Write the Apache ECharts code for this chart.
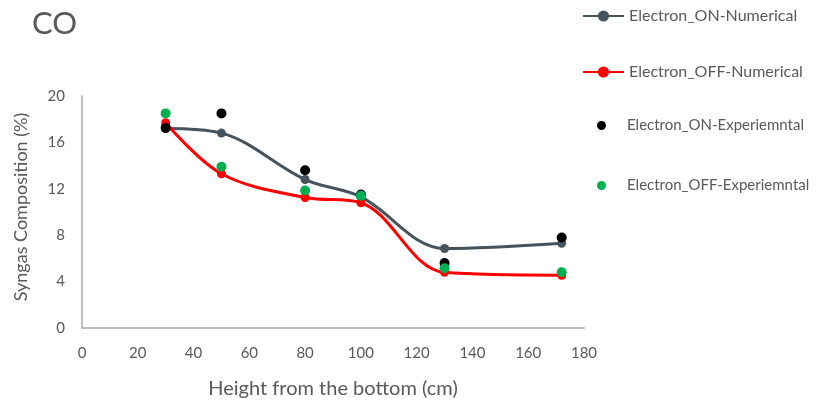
<!DOCTYPE html>
<html>
<head>
<meta charset="utf-8">
<title>CO</title>
<script src="https://cdn.jsdelivr.net/npm/echarts@6/dist/echarts.min.js"></script>
<style>
  html, body { margin: 0; padding: 0; background: #fff; }
  #chart { width: 819px; height: 406px; }
</style>
</head>
<body>
<div id="chart"></div>
<script>
// Sampling heights along the reactor (cm)
const heights = [30, 50, 80, 100, 130, 172];

// CO fraction in the syngas (%)
const onNumerical  = [17.2, 16.8, 12.8, 11.3, 6.85, 7.3];
const offNumerical = [17.7, 13.3, 11.25, 10.8, 4.8, 4.55];
const onExperimental  = [17.25, 18.5, 13.6, 11.5, 5.6, 7.8];
const offExperimental = [18.5, 13.9, 11.85, 11.4, 5.15, 4.8];

const seriesNames = [
  'Electron_ON-Numerical',
  'Electron_OFF-Numerical',
  'Electron_ON-Experiemntal',
  'Electron_OFF-Experiemntal'
];

const xTicks = [0, 20, 40, 60, 80, 100, 120, 140, 160, 180];
const yTicks = [0, 4, 8, 12, 16, 20];

const pairs = vals => heights.map((h, i) => [h, vals[i]]);

const textColor = '#595959';
const font = 'Lato, "Open Sans", sans-serif';

const chart = echarts.init(document.getElementById('chart'), null, { renderer: 'canvas' });

chart.setOption({
  animation: false,
  backgroundColor: '#fff',
  title: {
    text: 'CO',
    left: 27,
    top: 3,
    textStyle: { color: textColor, fontSize: 31, fontWeight: 'normal', fontFamily: font }
  },
  legend: [
    {
      // numerical curves: line + marker icon
      orient: 'vertical',
      left: 582,
      top: 8,
      padding: 0,
      itemWidth: 41,
      itemHeight: 14,
      itemGap: 40,
      textStyle: { color: textColor, fontSize: 16, fontFamily: font },
      data: seriesNames.slice(0, 2)
    },
    {
      // experimental points: dot icon
      orient: 'vertical',
      left: 597,
      top: 118,
      padding: 0,
      itemWidth: 41,
      itemHeight: 9,
      itemGap: 45,
      textStyle: { color: textColor, fontSize: 15, fontFamily: font },
      data: seriesNames.slice(2)
    }
  ],
  grid: { left: 82, right: 235, top: 96, bottom: 78, containLabel: false },
  xAxis: {
    type: 'value',
    min: xTicks[0],
    max: xTicks[xTicks.length - 1],
    interval: 20,
    name: 'Height from the bottom (cm)',
    nameLocation: 'middle',
    nameGap: 51,
    nameTextStyle: { color: textColor, fontSize: 20, fontFamily: font },
    axisLine: { lineStyle: { color: '#bfbfbf', width: 2 } },
    axisTick: { show: false },
    splitLine: { show: false },
    axisLabel: { color: textColor, fontSize: 15, fontFamily: font, margin: 18 }
  },
  yAxis: {
    type: 'value',
    min: yTicks[0],
    max: yTicks[yTicks.length - 1],
    interval: 4,
    name: 'Syngas Composition (%)',
    nameLocation: 'middle',
    nameGap: 52,
    nameTextStyle: { color: textColor, fontSize: 18, fontFamily: font, padding: [0, 0, 0, 10] },
    axisLine: { show: true, lineStyle: { color: '#bfbfbf', width: 2 } },
    axisTick: { show: false },
    splitLine: { show: false },
    axisLabel: { color: textColor, fontSize: 15, fontFamily: font, margin: 17 }
  },
  series: [
    {
      name: seriesNames[0],
      type: 'line',
      data: pairs(onNumerical),
      smooth: 0.35,
      symbol: 'circle',
      symbolSize: 9,
      lineStyle: { color: '#46535d', width: 3 },
      itemStyle: { color: '#46535d' },
      z: 2
    },
    {
      name: seriesNames[1],
      type: 'line',
      data: pairs(offNumerical),
      smooth: 0.35,
      symbol: 'circle',
      symbolSize: 9,
      lineStyle: { color: '#ff0000', width: 3 },
      itemStyle: { color: '#ff0000' },
      z: 2
    },
    {
      name: seriesNames[2],
      type: 'scatter',
      data: pairs(onExperimental),
      symbol: 'circle',
      symbolSize: 10,
      itemStyle: { color: '#000000', opacity: 1 },
      z: 3
    },
    {
      name: seriesNames[3],
      type: 'scatter',
      data: pairs(offExperimental),
      symbol: 'circle',
      symbolSize: 10,
      itemStyle: { color: '#00b050', opacity: 1 },
      z: 4
    }
  ]
});
</script>
</body>
</html>
